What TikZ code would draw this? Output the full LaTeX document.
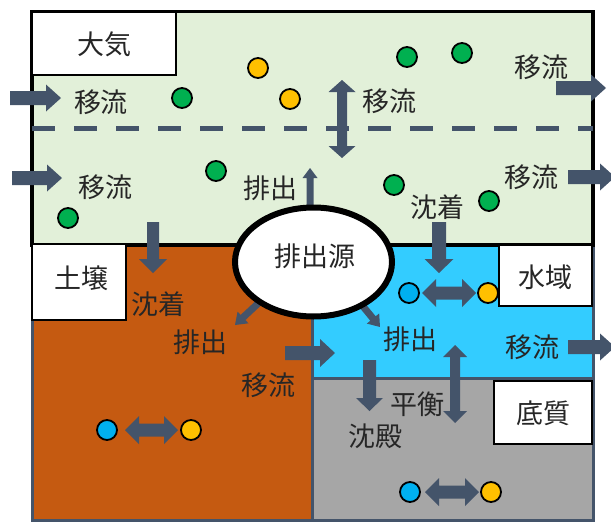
\documentclass[tikz,border=0pt]{standalone}
\usepackage{fontspec}
\setmainfont{Noto Sans CJK JP}
\usetikzlibrary{shapes.geometric}
\definecolor{atm}{HTML}{E2F0D9}
\definecolor{soil}{HTML}{C55A11}
\definecolor{water}{HTML}{33CCFF}
\definecolor{sed}{HTML}{A6A6A6}
\definecolor{arr}{HTML}{44546A}
\definecolor{grn}{HTML}{00B050}
\definecolor{ylw}{HTML}{FFC000}
\definecolor{blu}{HTML}{00B0F0}
\definecolor{txt}{HTML}{262626}
% single block arrow: x1,y1,x2,y2, shaft half, head half, head length
\newcommand\myarrow[7]{%
  \pgfmathsetmacro\bdx{#3-#1}\pgfmathsetmacro\bdy{#4-#2}%
  \pgfmathsetmacro\bang{atan2(-\bdy,\bdx)}%
  \pgfmathsetmacro\blen{veclen(\bdx,\bdy)}%
  \pgfmathsetmacro\bneck{\blen-#7}%
  \fill[arr, shift={(#1,#2)}, rotate=\bang] (0,-#5) -- (\bneck,-#5) -- (\bneck,-#6) -- (\blen,0) -- (\bneck,#6) -- (\bneck,#5) -- (0,#5) -- cycle;}
% double block arrow
\newcommand\mydarrow[7]{%
  \pgfmathsetmacro\bdx{#3-#1}\pgfmathsetmacro\bdy{#4-#2}%
  \pgfmathsetmacro\bang{atan2(-\bdy,\bdx)}%
  \pgfmathsetmacro\blen{veclen(\bdx,\bdy)}%
  \pgfmathsetmacro\bneck{\blen-#7}%
  \fill[arr, shift={(#1,#2)}, rotate=\bang] (0,0) -- (#7,-#6) -- (#7,-#5) -- (\bneck,-#5) -- (\bneck,-#6) -- (\blen,0) -- (\bneck,#6) -- (\bneck,#5) -- (#7,#5) -- (#7,#6) -- cycle;}
\begin{document}
\begin{tikzpicture}[x=1pt,y=-1pt,
  lbl/.style={font=\fontsize{27}{27}\selectfont, text=txt, inner sep=0pt},
  labelbox/.style={draw=black, line width=2.5pt, fill=white},
  dot/.style={circle, draw=black, line width=1.8pt, minimum size=20pt, inner sep=0pt},
  gdot/.style={dot, fill=grn},
  ydot/.style={dot, fill=ylw},
  bdot/.style={dot, fill=blu}]
\useasboundingbox (0,0) rectangle (611,522);
% regions
\fill[atm] (32,11.5) rectangle (593,245);
\fill[soil] (32,245) rectangle (312,520);
\fill[water] (312,245) rectangle (593,378);
\fill[sed] (312,378) rectangle (593,520);
\draw[arr, line width=3pt] (32,245) rectangle (312,520);
\draw[arr, line width=3pt] (312,245) rectangle (593,378);
\draw[arr, line width=3pt] (312,378) rectangle (593,520);
\draw[black, line width=3.5pt] (32,11.5) rectangle (593,245);
% dashed boundary
\draw[arr, line width=5pt, dash pattern=on 23pt off 19pt] (32,128) -- (593,128);
% label boxes
\draw[labelbox] (32,12) rectangle (176,75);
\draw[labelbox] (32,244) rectangle (126,320);
\draw[labelbox] (499,245) rectangle (592,306);
\draw[labelbox] (494,381) rectangle (592,444);
\node[lbl] (tAir) at (104,44) {大気};
\node[lbl] (tSoil) at (81,278) {土壌};
\node[lbl] (tWater) at (545,277) {水域};
\node[lbl] (tSed) at (543,413) {底質};
% particles
\node[gdot] (g1) at (182,98) {};
\node[gdot] (g2) at (407,57) {};
\node[gdot] (g3) at (462,53) {};
\node[gdot] (g4) at (216,171) {};
\node[gdot] (g5) at (68,218) {};
\node[gdot] (g6) at (394,185) {};
\node[gdot] (g7) at (489,201) {};
\node[ydot] (y1) at (258,68) {};
\node[ydot] (y2) at (290,99) {};
\node[bdot] (wb) at (409,293) {};
\node[ydot] (wy) at (488,293) {};
\node[bdot] (sb) at (107,430) {};
\node[ydot] (sy) at (191,430) {};
\node[bdot] (db) at (410,492) {};
\node[ydot] (dy) at (491,492) {};
% equilibrium arrows between particles
\mydarrow{422}{293}{476}{293}{6.5}{14}{14}
\mydarrow{125}{430}{178}{430}{6.5}{14}{14}
\mydarrow{425}{492}{479}{492}{6.5}{14}{14}
% advection arrows
\myarrow{10}{98}{61}{98}{7}{13.5}{15}
\myarrow{12}{178}{62}{178}{7}{13.5}{15}
\myarrow{556}{88}{606}{88}{7}{13.5}{15}
\myarrow{568}{177}{615}{177}{7}{13.5}{15}
\myarrow{568}{347}{615}{347}{7}{13.5}{15}
\myarrow{285}{353}{335}{353}{7}{14}{15}
% deposition / sedimentation
\myarrow{153}{222}{153}{273}{6}{14}{14}
\myarrow{439}{222}{439}{273}{7}{14.5}{14}
\myarrow{369.5}{360}{369.5}{411}{6.5}{13.5}{13}
% vertical exchanges
\mydarrow{342}{80}{342}{158}{5}{13.5}{12}
\mydarrow{455}{345}{455}{423}{5}{12}{12}
% emission arrows (start hidden under the source)
\myarrow{310}{215}{310}{168}{3.5}{7.5}{10}
\myarrow{266}{296}{235}{325}{3.5}{8}{11}
\myarrow{352}{293}{380}{327}{3.5}{8}{11}
% emission source
\node[ellipse, draw=black, line width=6pt, fill=white, minimum width=157pt, minimum height=109pt, inner sep=0pt] (src) at (313.5,262) {};
\node[lbl] (tSrc) at (315,256) {排出源};
% process labels
\node[lbl] at (101,102) {移流};
\node[lbl] at (105,187) {移流};
\node[lbl] at (389,101) {移流};
\node[lbl] at (541,67) {移流};
\node[lbl] at (531,177) {移流};
\node[lbl] at (270,188) {排出};
\node[lbl] at (437,207) {沈着};
\node[lbl] at (158,304) {沈着};
\node[lbl] at (200,342) {排出};
\node[lbl] at (268,385) {移流};
\node[lbl] at (410,339) {排出};
\node[lbl] at (532,347) {移流};
\node[lbl] at (417,404) {平衡};
\node[lbl] at (375,436) {沈殿};
\end{tikzpicture}
\end{document}
